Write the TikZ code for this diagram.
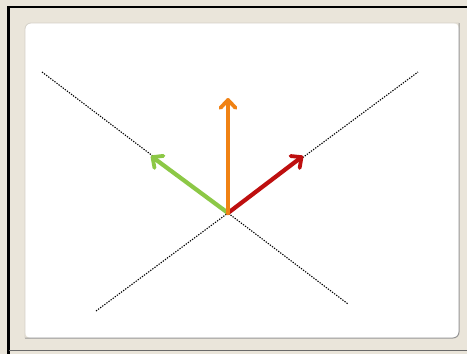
\documentclass[tikz,border=0pt]{standalone}
\usetikzlibrary{arrows.meta}
\definecolor{beige}{RGB}{234,229,218}
\definecolor{vorange}{RGB}{240,130,20}
\definecolor{vgreen}{RGB}{140,200,70}
\definecolor{vred}{RGB}{190,15,15}
\definecolor{edgegray}{RGB}{150,150,150}
\tikzset{
  guide/.style={black, line width=1.1pt, dash pattern=on 1.3pt off 1.3pt},
  vec/.style={line width=4.2pt, line cap=round, -{Straight Barb[length=8pt,width=15pt,line width=3.8pt, round]}},
}
\begin{document}
\begin{tikzpicture}[x=1pt,y=-1pt]
\useasboundingbox (0,0) rectangle (467,354);
\fill[beige] (0,0) rectangle (467,354);
% outer frame
\draw[black, line width=2.5pt] (8.5,354) -- (8.5,7) -- (467,7);
\draw[edgegray!70!black, line width=1pt] (8.5,350.5) -- (467,350.5);
% inner panel
\fill[white, rounded corners=6pt] (25,23) rectangle (459,338);
\draw[edgegray, line width=1pt, rounded corners=6pt] (25,338) -- (459,338) -- (459,23);
\draw[beige!80!gray, line width=0.8pt, rounded corners=6pt] (25,338) -- (25,23) -- (459,23);
% geometry
\coordinate (O) at (228,213);
\coordinate (l1a) at (42,72);
\coordinate (l1b) at (348,304);
\coordinate (l2a) at (96,311);
\coordinate (l2b) at (418,72);
\coordinate (tO) at (228,98);
\coordinate (tG) at (151,156);
\coordinate (tR) at (303,156);
\draw[guide] (l1a) -- (l1b);
\draw[guide] (l2a) -- (l2b);
\draw[vec, vgreen] (O) -- (tG);
\draw[vec, vred] (O) -- (tR);
\draw[vec, vorange] (O) -- (tO);
\end{tikzpicture}
\end{document}
